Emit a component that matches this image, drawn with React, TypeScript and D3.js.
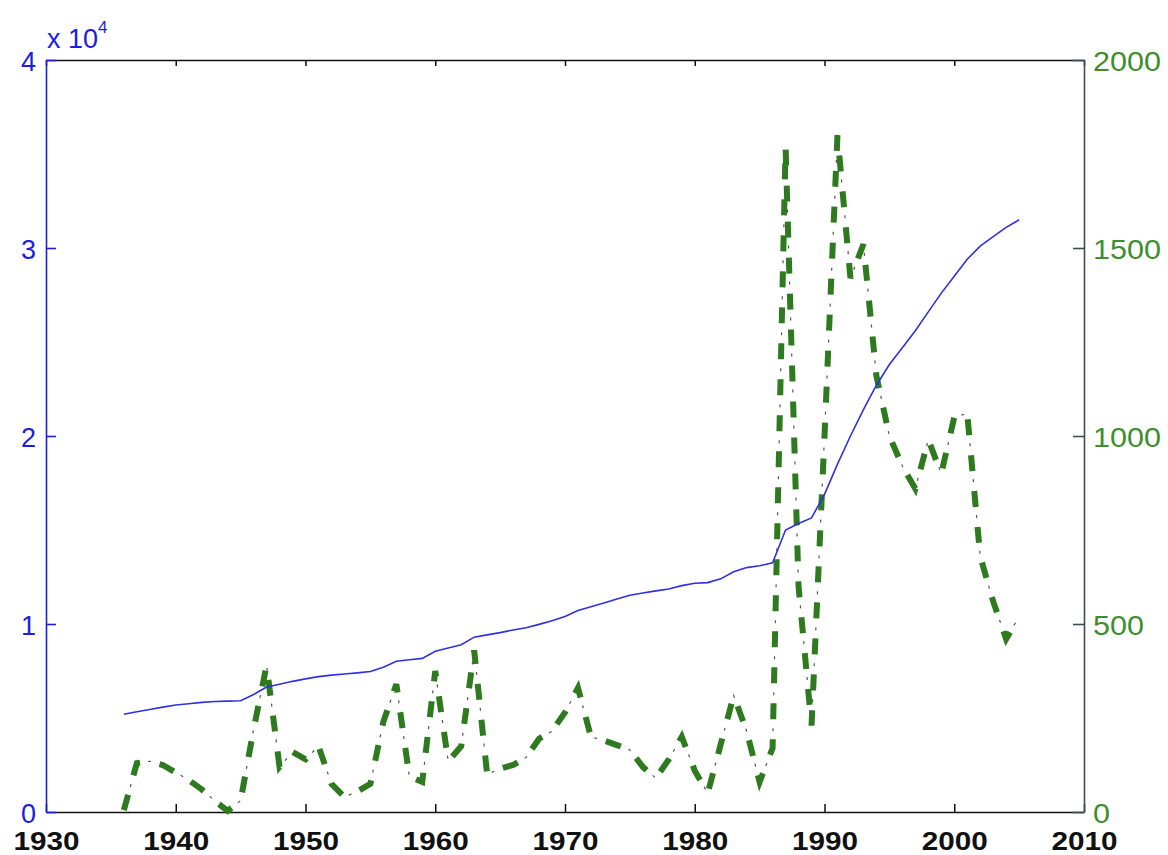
import React, { useEffect, useRef } from "react";
import * as d3 from "d3";

/** Years shared by both series. */
const years = [
  1936, 1937, 1938, 1939, 1940, 1941, 1942, 1943, 1944, 1945,
  1946, 1947, 1948, 1949, 1950, 1951, 1952, 1953, 1954, 1955,
  1956, 1957, 1958, 1959, 1960, 1961, 1962, 1963, 1964, 1965,
  1966, 1967, 1968, 1969, 1970, 1971, 1972, 1973, 1974, 1975,
  1976, 1977, 1978, 1979, 1980, 1981, 1982, 1983, 1984, 1985,
  1986, 1987, 1988, 1989, 1990, 1991, 1992, 1993, 1994, 1995,
  1996, 1997, 1998, 1999, 2000, 2001, 2002, 2003, 2004, 2005,
];

/** Cumulative series (left axis, blue solid). */
const cumulative = [
  5200, 5330, 5450, 5580, 5690, 5760, 5830, 5880, 5900, 5920,
  6250, 6650, 6800, 6950, 7080, 7200, 7280, 7340, 7400, 7470,
  7700, 8020, 8100, 8170, 8550, 8720, 8900, 9300, 9420, 9540,
  9680, 9800, 9980, 10170, 10400, 10720, 10920, 11120, 11330, 11530,
  11650, 11760, 11860, 12040, 12170, 12200, 12400, 12780, 13000, 13100,
  13250, 15000, 15350, 15640, 16900, 18500, 20000, 21400, 22700, 23800,
  24700, 25600, 26600, 27600, 28500, 29400, 30100, 30600, 31100, 31500,
];

/** Annual series (right axis, green dash-dot). */
const annual = [
  5, 130, 135, 125, 105, 85, 60, 30, 3, 30,
  220, 390, 120, 160, 140, 175, 75, 40, 55, 75,
  240, 340, 95, 80, 375, 135, 175, 430, 100, 115,
  125, 145, 195, 215, 265, 330, 200, 190, 178, 165,
  120, 90, 140, 200, 110, 50, 180, 310, 215, 80,
  170, 1770, 600, 230, 1000, 1800, 1420, 1510, 1160, 1000,
  920, 860, 990, 900, 1050, 1060, 680, 560, 460, 520,
];

/** Tick values. */
const xTicks = [1930, 1940, 1950, 1960, 1970, 1980, 1990, 2000, 2010];
const leftTicks = [0, 10000, 20000, 30000, 40000];
const rightTicks = [0, 500, 1000, 1500, 2000];

export default function App() {
  const ref = useRef<SVGSVGElement>(null);

  useEffect(() => {
    // Dimensions for the chart
    const width = 1168,
      height = 855,
      margin = { top: 60, left: 46, right: 84, bottom: 43 };

    const font = "'Liberation Sans', Arial, Helvetica, sans-serif";
    const blue = "#1d1de0";
    const green = "#2e7a1f";
    const greenText = "#3e8e2e";
    const rightAxisColor = "#3f4d55";

    const x = d3
      .scaleLinear()
      .domain([1930, 2010])
      .range([margin.left, width - margin.right]);
    const yLeft = d3
      .scaleLinear()
      .domain([0, 40000])
      .range([height - margin.bottom, margin.top]);
    const yRight = d3
      .scaleLinear()
      .domain([0, 2000])
      .range([height - margin.bottom, margin.top]);

    const svg = d3.select(ref.current);
    svg.selectAll("*").remove();

    // Top frame
    svg
      .append("g")
      .attr("transform", `translate(0, ${margin.top})`)
      .call(
        d3
          .axisTop(x)
          .tickValues(xTicks)
          .tickSize(-6)
          .tickSizeOuter(0)
          .tickFormat(() => "")
      )
      .call((g) => g.selectAll("path, line").attr("stroke", "#111").attr("stroke-width", 1.5));

    // Bottom axis (labels are a bit wide in the original, hence textLength)
    const xAxis = svg
      .append("g")
      .attr("transform", `translate(0, ${height - margin.bottom})`)
      .call(
        d3
          .axisBottom(x)
          .tickValues(xTicks)
          .tickSize(-8)
          .tickSizeOuter(0)
          .tickPadding(0)
          .tickFormat((d) => String(d))
      );
    xAxis.selectAll("path, line").attr("stroke", "#111").attr("stroke-width", 1.5);
    xAxis
      .selectAll("text")
      .attr("fill", "#111")
      .attr("font-family", font)
      .attr("font-weight", "bold")
      .attr("font-size", 25)
      .attr("y", 38)
      .attr("dy", null)
      .attr("textLength", 66)
      .attr("lengthAdjust", "spacingAndGlyphs");

    // Annual series: thick dashes with thin marks in between
    const lineRight = d3
      .line<number>()
      .x((d, i) => x(years[i]))
      .y((d) => yRight(d));

    svg
      .append("path")
      .datum(annual)
      .attr("d", lineRight)
      .attr("fill", "none")
      .attr("stroke", green)
      .attr("stroke-width", 6)
      .attr("stroke-dasharray", "16 20");

    svg
      .append("path")
      .datum(annual)
      .attr("d", lineRight)
      .attr("fill", "none")
      .attr("stroke", "#555")
      .attr("stroke-width", 1.2)
      .attr("stroke-dasharray", "0 24 3 9");

    // Cumulative series
    const lineLeft = d3
      .line<number>()
      .x((d, i) => x(years[i]))
      .y((d) => yLeft(d));

    svg
      .append("path")
      .datum(cumulative)
      .attr("d", lineLeft)
      .attr("fill", "none")
      .attr("stroke", "#3030e0")
      .attr("stroke-width", 1.6);

    // Left axis
    const leftAxis = svg
      .append("g")
      .attr("transform", `translate(${margin.left}, 0)`)
      .call(
        d3
          .axisLeft(yLeft)
          .tickValues(leftTicks)
          .tickSize(-10)
          .tickSizeOuter(0)
          .tickPadding(10)
          .tickFormat((d) => String(+d / 10000))
      );
    leftAxis.selectAll("path, line").attr("stroke", blue).attr("stroke-width", 1.6);
    leftAxis
      .selectAll("text")
      .attr("fill", blue)
      .attr("font-family", font)
      .attr("font-size", 27)
      .attr("dy", "0.38em");

    // Exponent label
    const expo = svg
      .append("text")
      .attr("x", margin.left + 1)
      .attr("y", 48)
      .attr("fill", blue)
      .attr("font-family", font)
      .attr("font-size", 27);
    expo.append("tspan").text("x 10");
    expo.append("tspan").attr("dy", -15).attr("font-size", 17).text("4");

    // Right axis
    const rightAxis = svg
      .append("g")
      .attr("transform", `translate(${width - margin.right}, 0)`)
      .call(
        d3
          .axisRight(yRight)
          .tickValues(rightTicks)
          .tickSize(-11)
          .tickSizeOuter(0)
          .tickPadding(9)
          .tickFormat((d) => String(d))
      );
    rightAxis
      .selectAll("path, line")
      .attr("stroke", rightAxisColor)
      .attr("stroke-width", 1.6);
    rightAxis
      .selectAll("text")
      .attr("fill", greenText)
      .attr("font-family", font)
      .attr("font-size", 27)
      .attr("dy", "0.38em")
      .attr("textLength", (d) => String(d).length * 17)
      .attr("lengthAdjust", "spacingAndGlyphs");
  }, []);

  return (
    <svg
      ref={ref}
      width={1168}
      height={855}
      style={{ position: "absolute", left: 0, top: 0, background: "#fff" }}
    ></svg>
  );
}
